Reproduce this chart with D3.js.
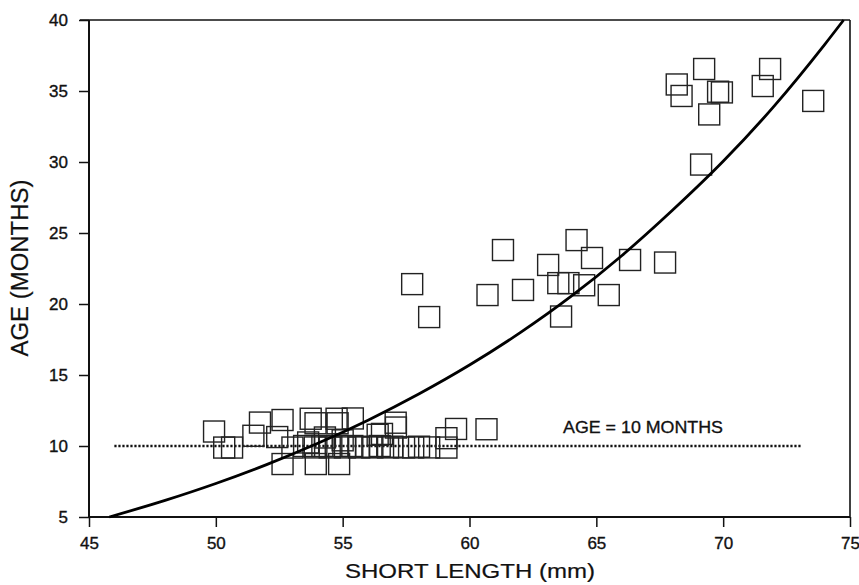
<!DOCTYPE html>
<html>
<head>
<meta charset="utf-8">
<script src="https://cdn.jsdelivr.net/npm/d3@7"></script>
<style>
  html, body { margin: 0; padding: 0; background: #fff; }
  svg { display: block; }
  text { font-family: "Liberation Sans", Arial, Helvetica, sans-serif; fill: #111; }
</style>
</head>
<body>
<svg id="chart" width="859" height="585"></svg>
<script>
// Observed specimens: short length (mm) and age (months)
const shortLength = [
  69.25, 68.17, 68.36, 69.80, 69.95, 69.45, 71.85, 71.56, 73.55, 69.13,
  57.74, 58.41, 61.32, 60.71, 62.11, 64.22, 63.10, 64.83, 63.50, 63.90,
  64.52, 63.61, 65.49, 66.33, 67.71,
  49.93, 51.48, 51.74, 52.63, 52.42, 53.74, 53.93, 53.64, 54.76, 55.40,
  54.80, 56.38, 56.55, 57.09, 57.10, 59.47, 60.67, 59.09, 54.30, 55.00,
  50.33, 50.64, 53.02, 53.48, 53.90, 54.20, 54.49, 54.79, 55.09, 55.38,
  55.65, 55.93, 56.17, 56.46, 56.79, 56.96, 57.42, 57.78, 58.01, 58.41,
  59.09,
  52.63, 53.94, 54.86
];
const ageMonths = [
  36.55, 35.46, 34.65, 34.95, 34.90, 33.35, 36.55, 35.35, 34.30, 29.82,
  21.40, 19.08, 23.80, 20.63, 20.99, 24.50, 22.75, 23.24, 21.47, 21.47,
  21.32, 19.12, 20.63, 23.10, 22.92,
  11.02, 10.72, 11.65, 11.83, 10.63, 11.92, 11.60, 10.25, 11.92, 11.94,
  11.60, 10.79, 10.85, 11.64, 11.30, 11.20, 11.18, 10.55, 10.60, 10.40,
   9.89,  9.89,  9.89, 10.00,  9.90, 10.00,  9.90, 10.00,  9.90, 10.00,
   9.90,  9.95,  9.90, 10.00,  9.90,  9.95,  9.90,  9.90,  9.95,  9.90,
   9.89,
   8.73,  8.73,  8.73
];

// Fitted growth curve
const curveX = [45.8, 48, 50, 52, 54, 56, 58, 60, 62, 64, 66, 68, 70, 72, 74, 74.75];
const curveY = [5.0, 6.17, 7.36, 8.69, 10.17, 11.82, 13.66, 15.70, 17.98, 20.53, 23.40, 26.60, 30.05, 33.92, 38.27, 40.0];

// Reference level: age = 10 months
const refX = [46.0, 73.1];
const refAge = 10;
const refLabel = "AGE = 10 MONTHS";

const xTicks = [45, 50, 55, 60, 65, 70, 75];
const yTicks = [5, 10, 15, 20, 25, 30, 35, 40];
const xTitle = "SHORT LENGTH (mm)";
const yTitle = "AGE (MONTHS)";

const svg = d3.select("#chart");
const plot = { left: 89, right: 850, top: 20, bottom: 517 };

const x = d3.scaleLinear().domain([45, 75]).range([plot.left, plot.right]);
const y = d3.scaleLinear().domain([5, 40]).range([plot.bottom, plot.top]);

const ink = "#111";

// Frame: top and right borders
svg.append("line").attr("x1", plot.left - 9).attr("x2", plot.right).attr("y1", plot.top).attr("y2", plot.top)
  .attr("stroke", ink).attr("stroke-width", 1.6);
svg.append("line").attr("x1", plot.right).attr("x2", plot.right).attr("y1", plot.top).attr("y2", plot.bottom)
  .attr("stroke", ink).attr("stroke-width", 1.6);

// Axes
const xAxis = svg.append("g").attr("transform", `translate(0,${plot.bottom})`)
  .call(d3.axisBottom(x).tickValues(xTicks).tickSize(10).tickPadding(10).tickSizeOuter(0));
const yAxis = svg.append("g").attr("transform", `translate(${plot.left},0)`)
  .call(d3.axisLeft(y).tickValues(yTicks).tickSize(10).tickPadding(11).tickSizeOuter(0));

[xAxis, yAxis].forEach(g => {
  g.select(".domain").attr("stroke", ink).attr("stroke-width", 2);
  g.selectAll(".tick line").attr("stroke", ink).attr("stroke-width", 1.5);
  g.selectAll(".tick text").attr("font-size", 17)
    .attr("font-family", "'Liberation Sans', Arial, Helvetica, sans-serif")
    .attr("fill", ink).attr("stroke", ink).attr("stroke-width", 0.35);
});
xAxis.select(".domain").attr("d", `M${plot.left},0H${plot.right}`);
yAxis.select(".domain").attr("d", `M0,${plot.top}V${plot.bottom}`);
xAxis.selectAll(".tick text").attr("dy", "0.71em");

// Axis titles
svg.append("text").attr("x", 470).attr("y", 578).attr("text-anchor", "middle")
  .attr("font-size", 20).attr("textLength", 250).attr("lengthAdjust", "spacingAndGlyphs")
  .attr("stroke", ink).attr("stroke-width", 0.2)
  .text(xTitle);
svg.append("text").attr("transform", "translate(28,268) rotate(-90)").attr("text-anchor", "middle")
  .attr("font-size", 23).attr("textLength", 177).attr("lengthAdjust", "spacingAndGlyphs")
  .attr("stroke", ink).attr("stroke-width", 0.2)
  .text(yTitle);

// Reference dotted line and its label
svg.append("line")
  .attr("x1", x(refX[0])).attr("x2", x(refX[1]))
  .attr("y1", y(refAge)).attr("y2", y(refAge))
  .attr("stroke", ink).attr("stroke-width", 2.6).attr("stroke-dasharray", "2.2,1.8");
svg.append("text").attr("x", 643).attr("y", 433).attr("text-anchor", "middle")
  .attr("font-size", 16).attr("textLength", 160).attr("lengthAdjust", "spacingAndGlyphs")
  .attr("stroke", ink).attr("stroke-width", 0.3)
  .text(refLabel);

// Open square markers
const pts = shortLength.map((v, i) => ({ x: v, y: ageMonths[i] }));
const s = 21;
svg.append("g").selectAll("rect").data(pts).join("rect")
  .attr("x", d => x(d.x) - s / 2).attr("y", d => y(d.y) - s / 2)
  .attr("width", s).attr("height", s)
  .attr("fill", "none").attr("stroke", "#222").attr("stroke-width", 1.4);

// Growth curve
const curvePts = curveX.map((v, i) => [x(v), y(curveY[i])]);
svg.append("path").datum(curvePts)
  .attr("d", d3.line().curve(d3.curveMonotoneX))
  .attr("fill", "none").attr("stroke", "#000").attr("stroke-width", 2.8);
</script>
</body>
</html>
